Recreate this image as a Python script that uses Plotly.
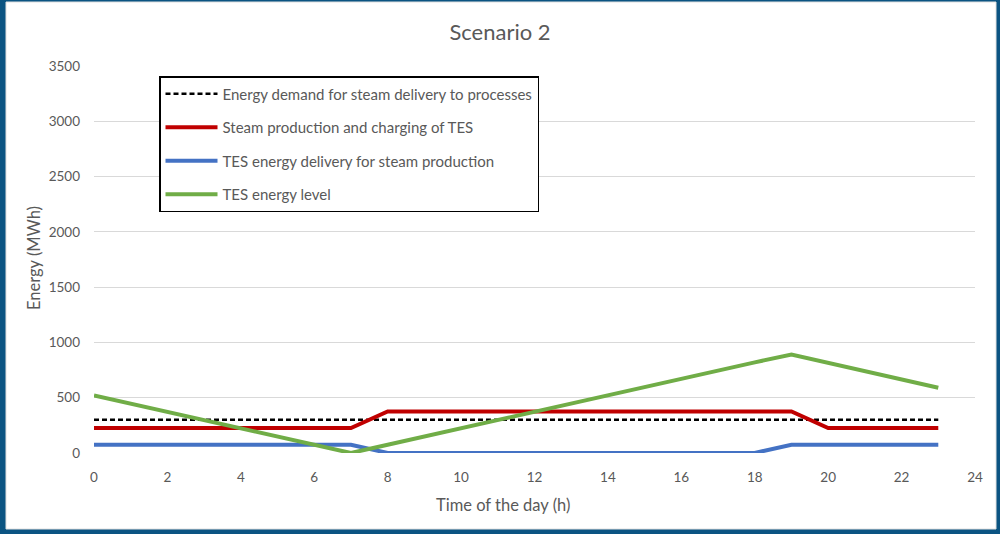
import plotly.graph_objects as go

hours = list(range(24))
demand = [300] * 24
steam = [225] * 8 + [375] * 12 + [225] * 4
tes_delivery = [75] * 8 + [0] * 11 + [75] * 5
tes_level = [520, 445, 370, 300, 225, 150, 75, 0, 75, 150, 225, 300, 375, 450,
             520, 595, 670, 745, 820, 890, 815, 740, 665, 590]

names = ["Energy demand for steam delivery to processes",
         "Steam production and charging of TES",
         "TES energy delivery for steam production",
         "TES energy level"]

FONT = "Lato"
GREY = "#595959"

fig = go.Figure()
fig.add_trace(go.Scatter(x=hours, y=demand, mode="lines", name=names[0], legendgroup="a",
                         line=dict(color="black", width=2.5, dash="5px,3px")))
fig.add_trace(go.Scatter(x=hours, y=steam, mode="lines", name=names[1], legendgroup="b",
                         line=dict(color="#c00000", width=4)))
fig.add_trace(go.Scatter(x=hours, y=tes_delivery, mode="lines", name=names[2], legendgroup="c",
                         line=dict(color="#4472c4", width=4)))
fig.add_trace(go.Scatter(x=hours, y=tes_level, mode="lines", name=names[3], legendgroup="d",
                         line=dict(color="#70ad47", width=4)))

# plot area: x 94..975 px, y 66..453 px
L, R, T, B = 94, 975, 66, 453
W, H = R - L, B - T
def px_x(p): return (p - L) / W
def px_y(p): return (B - p) / H

fig.add_shape(type="rect", xref="paper", yref="paper", layer="below",
              x0=px_x(6), x1=px_x(996), y0=px_y(529), y1=px_y(2),
              fillcolor="white", line=dict(width=1, color="#e0e0e0"))

fig.add_annotation(text="Time of the day (h)", xref="paper", yref="paper",
                   x=px_x(503), y=px_y(505), xanchor="center", yanchor="middle",
                   showarrow=False, font=dict(family=FONT, size=16.5, color=GREY))
fig.add_annotation(text="Energy (MWh)", xref="paper", yref="paper",
                   x=px_x(34), y=px_y(258), xanchor="center", yanchor="middle",
                   showarrow=False, textangle=-90,
                   font=dict(family=FONT, size=16.5, color=GREY))

fig.update_layout(
    width=1000, height=534,
    margin=dict(l=L, r=1000 - R, t=T, b=534 - B),
    paper_bgcolor="#0b5482", plot_bgcolor="rgba(0,0,0,0)",
    font=dict(family=FONT, size=13, color=GREY),
    title=dict(text="Scenario 2", x=0.5, xanchor="center", y=1 - 32 / 534, yanchor="middle",
               font=dict(family=FONT, size=22, color=GREY)),
    xaxis=dict(range=[0, 24], dtick=2, tick0=0, showgrid=False, zeroline=False,
               showline=False, ticks="", ticklabelstandoff=14,
               tickfont=dict(size=13.5, color=GREY)),
    yaxis=dict(range=[0, 3500], dtick=500, showgrid=True, gridcolor="#d9d9d9", gridwidth=1,
               zeroline=False, showline=False, ticks="", ticklabelstandoff=13,
               tickfont=dict(size=13.5, color=GREY)),
    legend=dict(x=px_x(159), y=px_y(76), xanchor="left", yanchor="top",
                bordercolor="black", borderwidth=1.5, bgcolor="white",
                font=dict(family=FONT, size=15, color=GREY),
                tracegroupgap=11, itemwidth=52),
    showlegend=True,
)
fig.write_html("out.html", config={"displayModeBar": False},
               post_script="document.body.style.margin='0';")
